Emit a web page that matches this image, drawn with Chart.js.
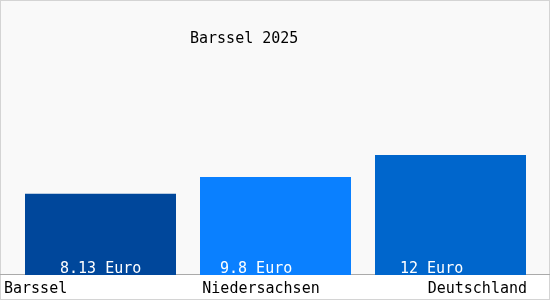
<!DOCTYPE html>
<html>
<head>
<meta charset="utf-8">
<script src="https://cdn.jsdelivr.net/npm/chart.js@4"></script>
<style>
    body { margin: 0; background: #ffffff; }
    canvas { display: block; }
</style>
</head>
<body>
<canvas id="chart" width="550" height="300"></canvas>
<script>
const titleText = 'Barssel 2025';
const categories = ['Barssel', 'Niedersachsen', 'Deutschland'];
const values = [8.13, 9.8, 12];
const valueLabels = ['8.13 Euro', '9.8 Euro', '12 Euro'];
const barColors = ['#00479b', '#0a80ff', '#0066cc'];

const FONT = '15px "DejaVu Sans Mono", monospace';

// Hintergrund, Rahmen und Grundlinie
const backgroundPlugin = {
    id: 'background',
    beforeDraw(chart) {
        const ctx = chart.ctx;
        const base = chart.scales.y.getPixelForValue(0);
        ctx.save();
        ctx.fillStyle = '#f9f9f9';
        ctx.fillRect(0, 0, chart.width, chart.height);
        ctx.fillStyle = '#ffffff';
        ctx.fillRect(0, base, chart.width, chart.height - base);
        ctx.strokeStyle = '#d4d4d4';
        ctx.lineWidth = 1;
        ctx.strokeRect(0.5, 0.5, chart.width - 1, chart.height - 1);
        ctx.strokeStyle = '#aaaaaa';
        ctx.beginPath();
        ctx.moveTo(0, base - 0.5);
        ctx.lineTo(chart.width, base - 0.5);
        ctx.stroke();
        ctx.restore();
    }
};

// Titel, Werte in den Balken, Kategorienamen
const textPlugin = {
    id: 'texts',
    afterDatasetsDraw(chart) {
        const ctx = chart.ctx;
        const base = chart.scales.y.getPixelForValue(0);
        const bars = chart.getDatasetMeta(0).data;
        const labelOffsets = [35, 20, 25];
        ctx.save();
        ctx.font = FONT;
        ctx.textBaseline = 'alphabetic';

        ctx.fillStyle = '#000000';
        ctx.textAlign = 'left';
        ctx.fillText(titleText, 190, 43);

        ctx.fillStyle = '#ffffff';
        bars.forEach((bar, i) => {
            const left = bar.x - bar.width / 2;
            ctx.fillText(valueLabels[i], left + labelOffsets[i], base - 2);
        });

        ctx.fillStyle = '#000000';
        const catPos = [[4, 'left'], [261, 'center'], [527, 'right']];
        categories.forEach((c, i) => {
            ctx.textAlign = catPos[i][1];
            ctx.fillText(c, catPos[i][0], base + 18);
        });
        ctx.restore();
    }
};

new Chart(document.getElementById('chart').getContext('2d'), {
    type: 'bar',
    data: {
        labels: categories,
        datasets: [{
            data: values,
            backgroundColor: barColors,
            borderWidth: 0,
            barPercentage: 151 / 175,
            categoryPercentage: 1
        }]
    },
    options: {
        responsive: false,
        animation: false,
        layout: {
            padding: { left: 13, right: 12, top: 25, bottom: 25 }
        },
        scales: {
            x: { display: false },
            y: { display: false, min: 0, max: 25 }
        },
        plugins: {
            legend: { display: false },
            tooltip: { enabled: false }
        }
    },
    plugins: [backgroundPlugin, textPlugin]
});
</script>
</body>
</html>
